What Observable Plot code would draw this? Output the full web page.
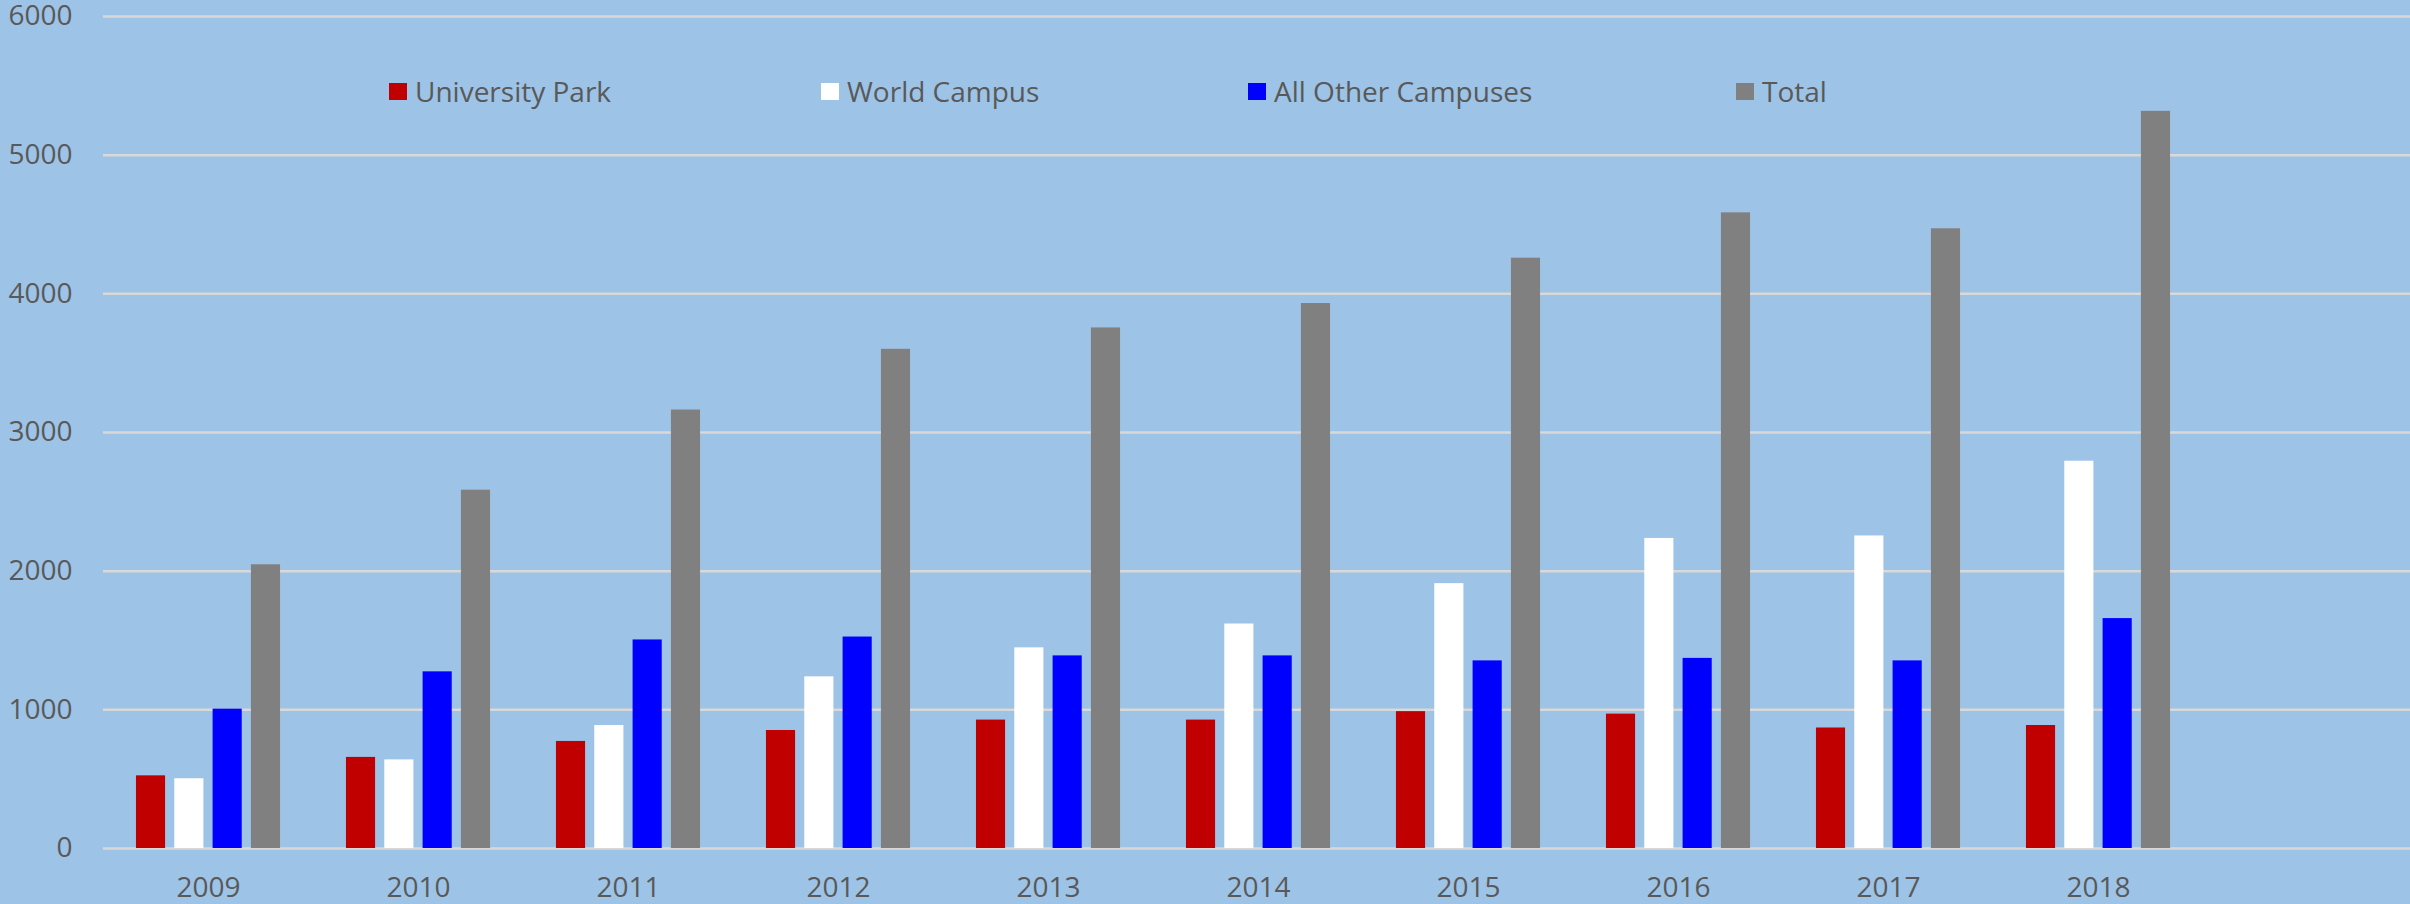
<!DOCTYPE html>
<html>
<head>
<meta charset="utf-8">
<script src="https://cdn.jsdelivr.net/npm/d3@7"></script>
<script src="https://cdn.jsdelivr.net/npm/@observablehq/plot@0.6"></script>
<style>
  html, body { margin: 0; padding: 0; background: #9DC3E6; }
  #chart { position: relative; width: 2410px; height: 904px; overflow: hidden; }
  #legend { position: absolute; left: 0; top: 0; width: 2410px; height: 0; }
  .item { position: absolute; top: 71px; height: 40px; display: flex; align-items: center;
          font-family: "Open Sans", sans-serif; font-size: 28px; color: #595959; white-space: nowrap; }
  .sw { width: 18px; height: 17px; margin-right: 8px; }
</style>
</head>
<body>
<div id="chart"><div id="legend"></div></div>
<script>
// ---- data ----
const years = ["2009","2010","2011","2012","2013","2014","2015","2016","2017","2018"];
const emptySlot = [""]; // the category axis has an unused 11th slot on the right
const series = ["University Park", "World Campus", "All Other Campuses", "Total"];
const seriesColors = ["#C00000", "#FFFFFF", "#0000FF", "#808080"];
const universityPark   = [524, 657, 772, 851, 926, 926, 987, 969, 869, 887];
const worldCampus      = [503, 639, 887, 1238, 1447, 1619, 1910, 2236, 2254, 2793];
const allOtherCampuses = [1005, 1274, 1504, 1525, 1389, 1389, 1353, 1371, 1353, 1658];
const total            = [2046, 2584, 3162, 3600, 3754, 3930, 4257, 4584, 4469, 5316];
const yTicks = [0, 1000, 2000, 3000, 4000, 5000, 6000];

const slots = [...years, ...emptySlot];
const seriesValues = [universityPark, worldCampus, allOtherCampuses, total];
const table = [];
years.forEach((yr, i) => {
  series.forEach((s, j) => table.push({year: yr, series: s, value: seriesValues[j][i]}));
});
// gridlines in every category slot (including the empty one) so they run to the right edge
const gridTable = [];
slots.forEach(sl => yTicks.forEach(t => gridTable.push({slot: sl, tick: t})));

const textColor = "#595959";

const chart = Plot.plot({
  width: 2410,
  height: 904,
  marginLeft: 102,
  marginRight: -4,
  marginTop: 16,
  marginBottom: 56,
  style: {background: "#9DC3E6", fontFamily: "'Open Sans', sans-serif", fontSize: "28px", color: textColor},
  fx: {domain: slots, padding: 0, label: null},
  x: {domain: series, paddingInner: 0.24, paddingOuter: 0.86, axis: null, round: false},
  y: {domain: [0, 6000], label: null},
  color: {domain: series, range: seriesColors},
  marks: [
    Plot.ruleY(gridTable, {fx: "slot", y: "tick", stroke: "#D9D9D9", strokeWidth: 2.5}),
    Plot.barY(table, {fx: "year", x: "series", y: "value", fill: "series"}),
    Plot.axisY(yTicks, {tickSize: 0, tickPadding: 31, label: null, tickFormat: d => String(d), fill: textColor, fontSize: 28}),
    Plot.axisFx({anchor: "bottom", tickSize: 0, tickPadding: 29, label: null, fill: textColor, fontSize: 28})
  ]
});
document.getElementById("chart").prepend(chart);

// legend overlay (inside the plot area, as in the original)
const legendLeft = [389, 821, 1248, 1736];
const legend = document.getElementById("legend");
series.forEach((s, i) => {
  const it = document.createElement("div");
  it.className = "item";
  it.style.left = legendLeft[i] + "px";
  const sw = document.createElement("div");
  sw.className = "sw";
  sw.style.background = seriesColors[i];
  const tx = document.createElement("span");
  tx.textContent = s;
  it.append(sw, tx);
  legend.append(it);
});
</script>
</body>
</html>
